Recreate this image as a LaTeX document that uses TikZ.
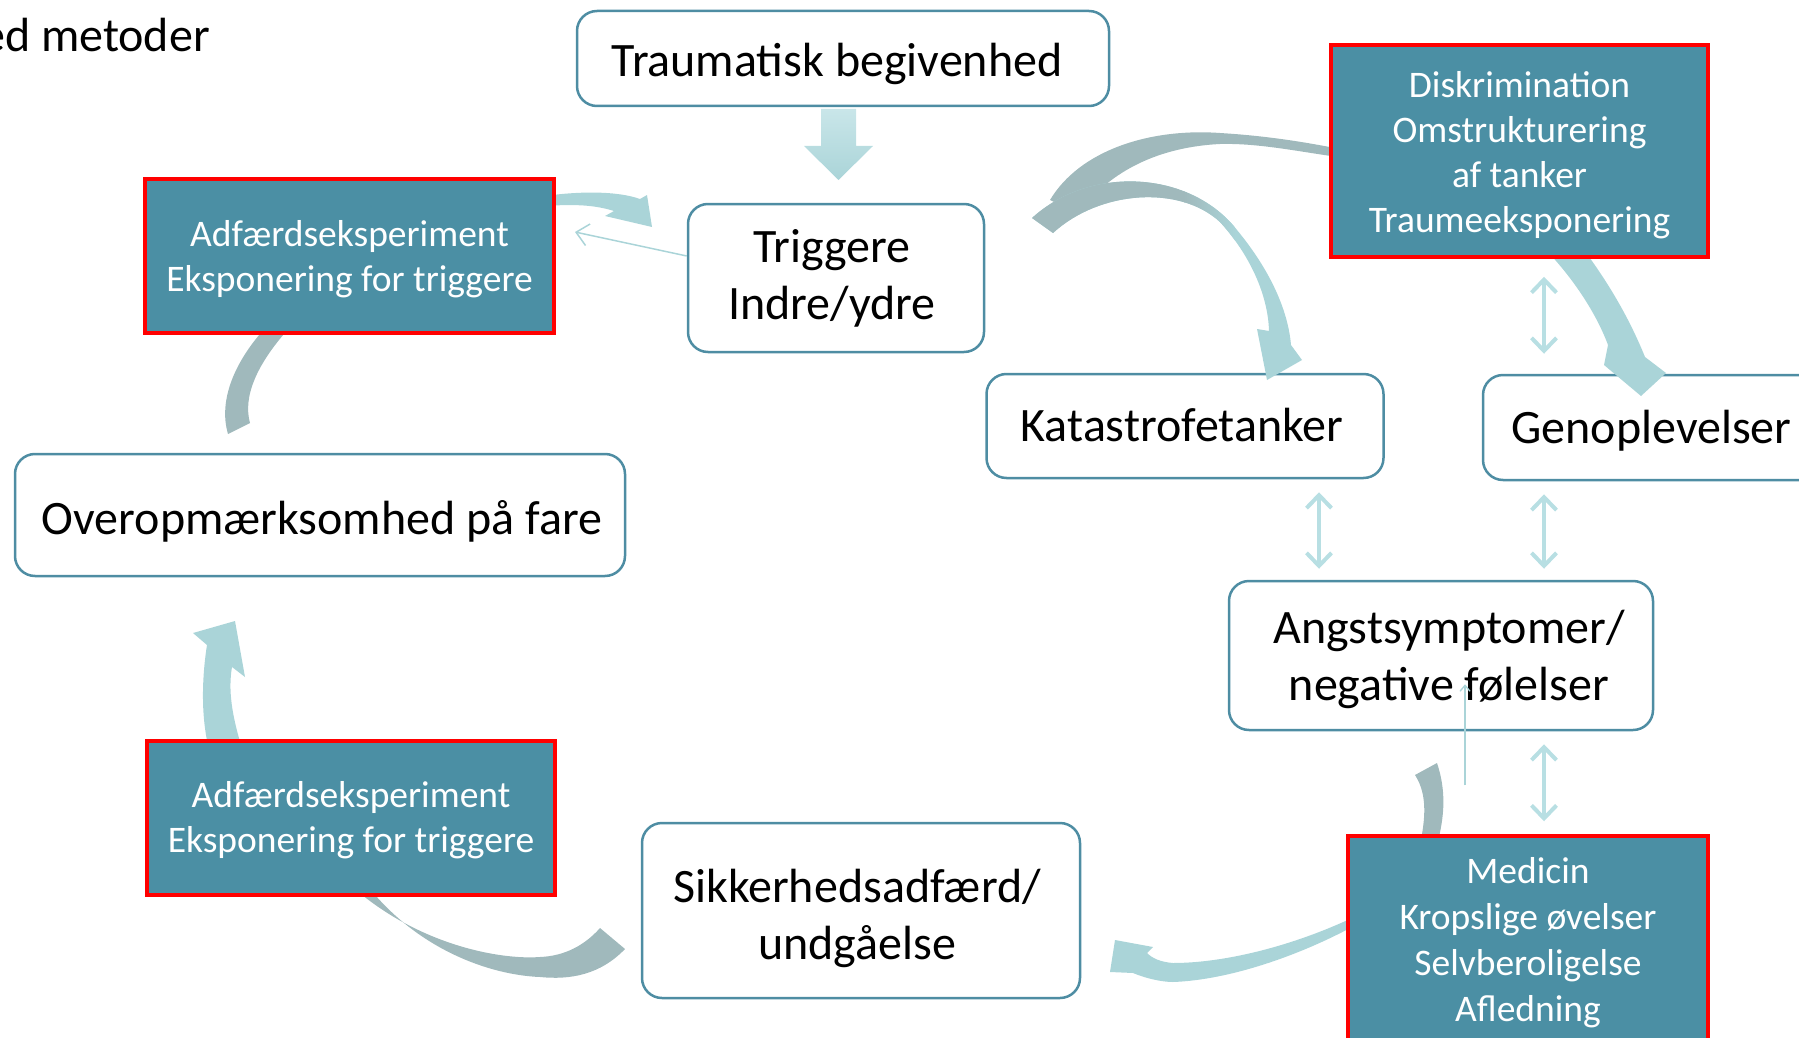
\documentclass[tikz,border=0pt]{standalone}
\usepackage{fontspec}
\setmainfont{Carlito}
\usetikzlibrary{arrows.meta,calc}
\definecolor{boxline}{HTML}{4E8DA3}
\definecolor{tealfill}{HTML}{4B8FA4}
\definecolor{arrcyan}{HTML}{AAD4D8}
\definecolor{arrtop}{HTML}{C9E6E9}
\definecolor{arrgray}{HTML}{A0B9BC}
\definecolor{dblc}{HTML}{B8DFE3}
\pgfdeclarelayer{arr}
\pgfdeclarelayer{top}
\pgfsetlayers{main,arr,top}
\begin{document}
\begin{tikzpicture}[x=1pt,y=-1pt,
  rbox/.style={draw=boxline,line width=2.5pt,rounded corners=20pt,fill=white,inner sep=0pt},
  tbox/.style={draw=red,line width=3.5pt,fill=tealfill,inner sep=0pt},
  btxt/.style={align=center,inner sep=0pt,font=\fontsize{48}{57}\selectfont},
  wtxt/.style={align=center,inner sep=0pt,text=white,font=\fontsize{37.5}{45}\selectfont},
  dbl/.style={draw=dblc,line width=4pt,{Straight Barb[length=13pt,width=25pt]}-{Straight Barb[length=13pt,width=25pt]}},
  thinarr/.style={draw=arrcyan,line width=1.5pt,-{Straight Barb[length=12pt,width=22pt]}},
]
\useasboundingbox (0,0) rectangle (1799,1038);
\node[anchor=base east,inner sep=0pt,font=\fontsize{48}{57}\selectfont] (title) at (210,52) {ed metoder};

% rounded boxes (bottom layer)
\node[rbox,minimum width=532pt,minimum height=95pt] (trauma) at (843,58.5) {};
\node[rbox,minimum width=296pt,minimum height=148pt] (trig) at (836,278) {};
\node[rbox,minimum width=610pt,minimum height=122pt] (over) at (320,515) {};
\node[rbox,minimum width=397pt,minimum height=104pt] (kat) at (1185,426) {};
\node[rbox,minimum width=337pt,minimum height=105pt] (geno) at (1651.5,427.5) {};
\node[rbox,minimum width=424pt,minimum height=149pt] (angst) at (1441,655.5) {};
\node[rbox,minimum width=438pt,minimum height=175pt] (sik) at (861,910.5) {};
\node[btxt] (traumaT) at ($(trauma)+(-6,5)$) {Traumatisk begivenhed};
\node[btxt] (trigT) at ($(trig)+(-4,0)$) {Triggere\\Indre/ydre};
\node[btxt] (overT) at ($(over)+(2,6)$) {Overopmærksomhed på fare};
\node[btxt] (katT) at ($(kat)+(-3,-1)$) {Katastrofetanker};
\node[btxt] (genoT) at ($(geno)+(0,3)$) {Genoplevelser};
\node[btxt] (angstT) at ($(angst)+(8,4)$) {Angstsymptomer/\\negative følelser};
\node[btxt] (sikT) at ($(sik)+(-4,8)$) {Sikkerhedsadfærd/\\undgåelse};

% method boxes (top layer)
\begin{pgfonlayer}{top}
\node[tbox,minimum width=409pt,minimum height=154pt] (adfA) at (349.5,256) {};
\node[tbox,minimum width=377pt,minimum height=212pt] (disk) at (1519.5,151) {};
\node[tbox,minimum width=360pt,minimum height=210pt] (medi) at (1528,941) {};
\node[tbox,minimum width=408pt,minimum height=154pt] (adfB) at (351,818) {};
\node[wtxt] (adfAT) at ($(adfA)+(0,3)$) {Adfærdseksperiment\\Eksponering for triggere};
\node[wtxt] (diskT) at ($(disk)+(0,4)$) {Diskrimination\\Omstrukturering\\af tanker\\Traumeeksponering};
\node[wtxt,font=\fontsize{37.5}{46}\selectfont] (mediT) at ($(medi)+(0,2)$) {Medicin\\Kropslige øvelser\\Selvberoligelse\\Afledning};
\node[wtxt] (adfBT) at ($(adfB)+(0,2)$) {Adfærdseksperiment\\Eksponering for triggere};
\end{pgfonlayer}

\coordinate (xa) at (1544,0);
\coordinate (xb) at (1319,0);
\coordinate (xc) at (1465,0);
\coordinate (t1end) at (575,232);

\begin{pgfonlayer}{arr}
% Traumatisk -> Triggere (block arrow)
\shade[top color=arrtop,bottom color=arrcyan]
  (821,109) -- (856,109) -- (856,146) -- (873,146) -- (838.5,180) -- (804,146) -- (821,146) -- cycle;
% Overopmaerksomhed -> Triggere (middle hidden by adfA)
\fill[arrgray] (268,325) .. controls (235,360) and (218,400) .. (228,434)
  -- (250,423) .. controls (243,398) and (255,365) .. (292,325) -- cycle;
\fill[arrcyan] (545,196) .. controls (580,191) and (618,191) .. (640,199)
  -- (647,195) -- (652,227) -- (605,216) -- (614,211)
  .. controls (595,205) and (575,204) .. (545,206) -- cycle;
% Triggere -> Genoplevelser (middle hidden by disk)
\fill[arrgray] (1050,200) .. controls (1080,150) and (1150,128) .. (1220,133)
  .. controls (1270,136) and (1310,143) .. (1345,150)
  -- (1345,158) .. controls (1300,152) and (1260,143) .. (1220,144)
  .. controls (1160,147) and (1110,170) .. (1078,214) -- cycle;
\fill[arrcyan] (1546,250) .. controls (1570,275) and (1595,310) .. (1608,345)
  -- (1604,365) -- (1641,396) -- (1666,373) -- (1645,357)
  .. controls (1630,320) and (1610,285) .. (1584,250) -- cycle;
% Triggere -> Katastrofetanker
\begin{scope}
\clip (1032,218) .. controls (1090,165) and (1190,170) .. (1237,230)
  .. controls (1270,270) and (1288,310) .. (1291,345)
  -- (1302,360) -- (1267,380) -- (1257,329) -- (1269,331)
  .. controls (1268,295) and (1250,255) .. (1220,222)
  .. controls (1180,185) and (1100,190) .. (1053,233) -- cycle;
\fill[arrcyan] (1020,160) rectangle (1310,390);
\fill[arrgray] (1020,160) rectangle (1185,240);
\shade[left color=arrgray,right color=arrcyan] (1184,160) rectangle (1235,240);
\end{scope}
% Angst -> Sikkerhed (middle hidden by medi)
\fill[arrgray] (1415,775) -- (1437,763) .. controls (1446,790) and (1445,815) .. (1437,845)
  -- (1420,845) .. controls (1425,820) and (1428,795) .. (1415,775) -- cycle;
\fill[arrcyan] (1352,918) .. controls (1290,947) and (1223,963) .. (1173,963)
  .. controls (1160,962) and (1152,958) .. (1147,953)
  -- (1153,947) -- (1115,940) -- (1110,972) -- (1133,973)
  .. controls (1150,980) and (1165,982) .. (1173,982)
  .. controls (1230,980) and (1300,955) .. (1352,927) -- cycle;
% Sikkerhed -> Overopmaerksomhed (middle hidden by adfB)
\fill[arrgray] (355,889) .. controls (420,945) and (500,960) .. (540,957)
  .. controls (565,956) and (585,945) .. (600,928)
  -- (625,949) .. controls (600,975) and (570,980) .. (540,977)
  .. controls (490,975) and (420,950) .. (370,889) -- cycle;
\fill[arrcyan] (208,745) .. controls (200,710) and (203,670) .. (207,645)
  -- (193,633) -- (235,621) -- (245,677) -- (232,667)
  .. controls (228,690) and (232,715) .. (241,745) -- cycle;

% thin arrows
\draw[thinarr] ($(trig.west)+(0,-22)$) -- (t1end);
\draw[dbl,shorten <=18pt,shorten >=20pt] (disk.south -| xa) -- (geno.north -| xa);
\draw[dbl,shorten <=13pt,shorten >=11pt] (kat.south -| xb) -- (angst.north -| xb);
\draw[dbl,shorten <=13pt,shorten >=11pt] (geno.south -| xa) -- (angst.north -| xa);
\draw[dbl,shorten <=13pt,shorten >=13pt] (angst.south -| xa) -- (medi.north -| xa);
\draw[draw=arrcyan,line width=1.3pt,-{Straight Barb[length=6pt,width=10pt]}] ($(angst.south -| xc)+(0,54)$) -- ($(angst.south -| xc)+(0,-47)$);
\end{pgfonlayer}
\end{tikzpicture}
\end{document}
